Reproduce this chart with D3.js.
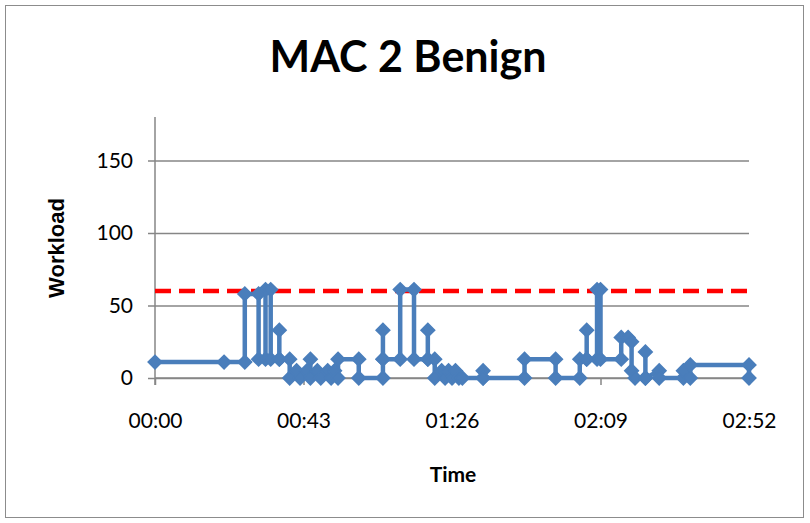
<!DOCTYPE html>
<html>
<head>
<meta charset="utf-8">
<script src="https://cdn.jsdelivr.net/npm/d3@7"></script>
<style>
  body { margin: 0; background: #fff; }
  svg { display: block; }
  .tick text { font-family: Lato, "Open Sans", sans-serif; font-size: 21px; fill: #000; }
</style>
</head>
<body>
<div id="chart"></div>
<script>
// time in seconds, workload value (step-like trace)
const times = [0, 20, 26, 26, 30, 30, 32, 32, 33.5, 33.5, 36, 36, 36, 39, 39, 41, 42, 44, 45, 45, 47, 48, 50, 51, 52, 53, 53, 59, 59, 66, 66, 66, 66, 71, 71, 75, 75, 79, 79, 79, 81, 81, 83, 84, 85, 86, 87, 88, 89, 95, 95, 95, 107, 107, 116, 116, 123, 123, 125, 125, 125, 128, 128, 129, 129, 135, 135, 137, 138, 138, 139, 142, 142, 142, 146, 146, 153, 153, 155, 155, 172, 172];
const workload = [11, 11, 11, 58, 58, 13, 13, 61, 61, 13, 13, 33, 13, 13, 0, 5, 0, 5, 13, 0, 5, 0, 5, 0, 5, 0, 13, 13, 0, 0, 13, 33, 13, 13, 61, 61, 13, 13, 33, 13, 13, 0, 5, 0, 5, 0, 5, 0, 0, 0, 5, 0, 0, 13, 13, 0, 0, 13, 13, 33, 13, 13, 61, 61, 13, 13, 28, 28, 25, 5, 0, 0, 18, 0, 5, 0, 0, 5, 0, 9, 9, 0];
const threshold = 60;
const xTicks = [0, 43, 86, 129, 172];
const yTicks = [0, 50, 100, 150];
const title = 'MAC 2 Benign';

const data = times.map((t, i) => ({t: t, v: workload[i]}));

const width = 810, height = 523;
const margin = {t: 117, r: 61, b: 145, l: 155};
const w = width - margin.l - margin.r;
const h = height - margin.t - margin.b;

const svg = d3.select('#chart').append('svg')
  .attr('width', width)
  .attr('height', height);

svg.append('rect')
  .attr('x', 5.5).attr('y', 5.5)
  .attr('width', 798).attr('height', 512)
  .attr('fill', '#fff')
  .attr('stroke', '#8c8c8c')
  .attr('stroke-width', 1);

const plot = svg.append('g')
  .attr('transform', `translate(${margin.l},${margin.t})`);

const scaleX = d3.scaleLinear().domain([0, 172]).range([0, w]);
const scaleY = d3.scaleLinear().domain([0, 180]).range([h, 0]);

// gridlines + y axis
const axisY = d3.axisLeft(scaleY)
  .tickValues(yTicks)
  .tickSize(-w)
  .tickPadding(22);
const gy = plot.append('g').attr('class', 'axis axis-y').call(axisY);
gy.select('.domain').remove();
gy.selectAll('.tick line').attr('stroke', '#868686').attr('stroke-width', 1.5);
gy.selectAll('.tick').append('line')
  .attr('x1', -7).attr('x2', 0)
  .attr('stroke', '#868686').attr('stroke-width', 1.5);

plot.append('line')
  .attr('x1', 0).attr('x2', 0)
  .attr('y1', 0).attr('y2', h + 7)
  .attr('stroke', '#868686').attr('stroke-width', 1.5);

const axisX = d3.axisBottom(scaleX)
  .tickValues(xTicks)
  .tickSize(7)
  .tickPadding(28)
  .tickFormat(d => d3.format('02')(Math.floor(d / 60)) + ':' + d3.format('02')(d % 60));
const gx = plot.append('g').attr('class', 'axis axis-x')
  .attr('transform', `translate(0,${h})`)
  .call(axisX);
gx.select('.domain').attr('stroke', '#868686').attr('stroke-width', 1.5).attr('d', `M0,0H${w}`);
gx.selectAll('.tick line').attr('stroke', '#868686').attr('stroke-width', 1.5);

// threshold line
plot.append('line')
  .attr('x1', scaleX(0)).attr('x2', scaleX(172))
  .attr('y1', scaleY(threshold)).attr('y2', scaleY(threshold))
  .attr('stroke', '#ff0000')
  .attr('stroke-width', 4.5)
  .attr('stroke-dasharray', '16 8');

// series line
const line = d3.line().x(d => scaleX(d.t)).y(d => scaleY(d.v));
plot.append('path')
  .datum(data)
  .attr('fill', 'none')
  .attr('stroke', '#4a7ebb')
  .attr('stroke-width', 4.5)
  .attr('stroke-linejoin', 'round')
  .attr('d', line);

const diamond = d3.symbol().type(d3.symbolDiamond2).size(120);
plot.selectAll('.pt')
  .data(data)
  .enter().append('path')
  .attr('class', 'pt')
  .attr('transform', d => `translate(${scaleX(d.t)},${scaleY(d.v)})`)
  .attr('d', diamond)
  .attr('fill', '#4a7ebb')
  .attr('stroke', '#4a7ebb')
  .attr('stroke-width', 1.5);

// titles
svg.append('text')
  .attr('x', 408).attr('y', 72)
  .attr('text-anchor', 'middle')
  .style('font-family', 'Lato, "Open Sans", sans-serif')
  .style('font-weight', 'bold')
  .style('font-size', '43px')
  .text(title);

svg.append('text')
  .attr('transform', 'translate(64,248) rotate(-90)')
  .attr('text-anchor', 'middle')
  .style('font-family', '"Liberation Sans", Arial, sans-serif')
  .style('font-weight', 'bold')
  .style('font-size', '22px')
  .text('Workload');

svg.append('text')
  .attr('x', 453).attr('y', 482)
  .attr('text-anchor', 'middle')
  .style('font-family', 'Lato, "Open Sans", sans-serif')
  .style('font-weight', 'bold')
  .style('font-size', '21px')
  .text('Time');
</script>
</body>
</html>
